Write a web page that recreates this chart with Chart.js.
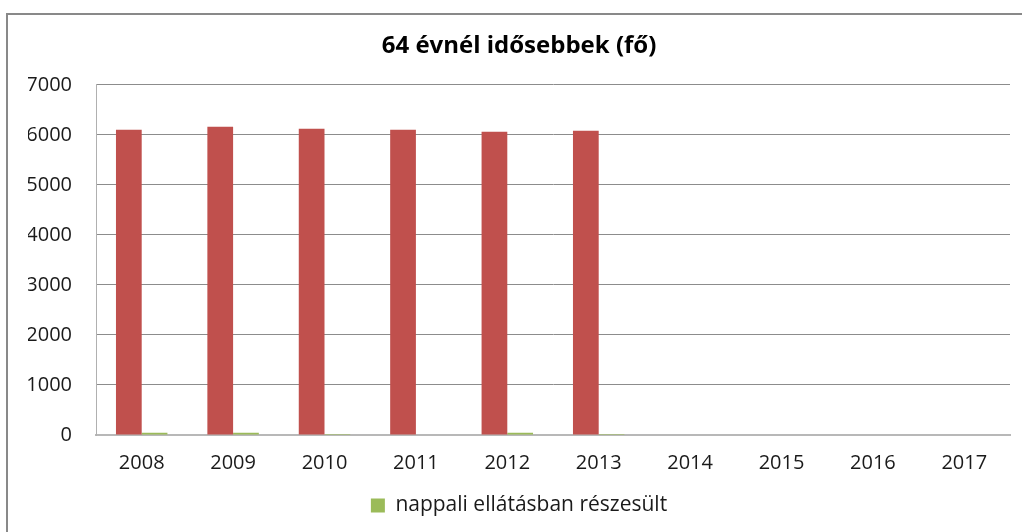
<!DOCTYPE html>
<html>
<head>
<meta charset="utf-8">
<script src="https://cdn.jsdelivr.net/npm/chart.js@4.4.1/dist/chart.umd.min.js"></script>
<style>
    html, body { margin: 0; padding: 0; background: #fff; overflow: hidden; }
    #frame {
        position: absolute; left: 6px; top: 13px;
        width: 1040px; height: 540px;
        border: 2px solid #898989;
    }
    #myChart { position: absolute; left: 8px; top: 0; }
</style>
</head>
<body>
<div id="frame"></div>
<canvas id="myChart" width="1024" height="532"></canvas>
<script>
const years = ["2008","2009","2010","2011","2012","2013","2014","2015","2016","2017"];
const idosebbek = [6100, 6160, 6120, 6100, 6060, 6080, null, null, null, null];
const nappali = [45, 45, 20, 0, 45, 20, null, null, null, null];
const yTicks = [0, 1000, 2000, 3000, 4000, 5000, 6000, 7000];

const ctx = document.getElementById("myChart").getContext("2d");

const myChart = new Chart(ctx, {
    type: "bar",
    data: {
        labels: years,
        datasets: [
            {
                label: "64 évnél idősebbek",
                data: idosebbek,
                backgroundColor: "#C0504D"
            },
            {
                label: "nappali ellátásban részesült",
                data: nappali,
                backgroundColor: "#9BBB59"
            }
        ]
    },
    options: {
        responsive: false,
        animation: false,
        layout: { padding: { left: 20, right: 22, top: 0, bottom: 6 } },
        datasets: {
            bar: { categoryPercentage: 0.563, barPercentage: 1.0 }
        },
        scales: {
            x: {
                grid: { display: false, drawTicks: false },
                border: { color: "#b8b8b8", width: 2 },
                ticks: {
                    color: "#1a1a1a",
                    padding: 16,
                    font: { family: "Open Sans", size: 20 }
                },
                afterFit: s => { s.height = 50; }
            },
            y: {
                min: 0,
                max: 7000,
                afterBuildTicks: s => { s.ticks = yTicks.map(v => ({ value: v })); },
                grid: { color: "#8c8c8c", drawTicks: false },
                border: { color: "#b0b0b0", width: 1 },
                ticks: {
                    color: "#1a1a1a",
                    padding: 24,
                    font: { family: "Open Sans", size: 20 },
                    callback: v => String(v)
                },
                afterFit: s => { s.width = 68; }
            }
        },
        plugins: {
            title: {
                display: true,
                text: "64 évnél idősebbek (fő)",
                color: "#000",
                font: { family: "Open Sans", size: 24, weight: "bold" },
                padding: { top: 32, bottom: 24 }
            },
            legend: {
                position: "bottom",
                labels: {
                    filter: item => item.datasetIndex === 1,
                    boxWidth: 14,
                    boxHeight: 14,
                    padding: 10,
                    color: "#1a1a1a",
                    font: { family: "Open Sans", size: 21 }
                }
            },
            tooltip: { enabled: false }
        }
    }
});
</script>
</body>
</html>
